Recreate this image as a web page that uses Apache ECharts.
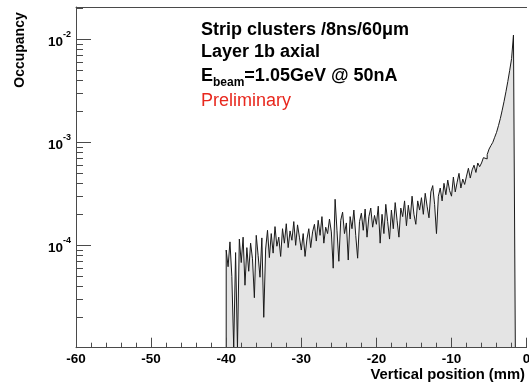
<!DOCTYPE html>
<html><head><meta charset="utf-8">
<script src="https://cdn.jsdelivr.net/npm/echarts@6/dist/echarts.min.js"></script>
<style>html,body{margin:0;padding:0;background:#fff}#c{width:529px;height:383px}</style>
</head><body><div id="c"></div><script>
// ---- data ----
const binLow = -40;          // left edge of first bin (mm)
const binWidth = 0.25;       // bin width (mm)
const occupancy = [
  9.0e-5, 6.2e-5, 1.08e-4, 5.0e-5, 0, 8.5e-5, 0, 1.15e-4,
  6.8e-5, 1.2e-4, 4.1e-5, 9.5e-5, 5.6e-5, 1.05e-4, 7.4e-5, 3.1e-5,
  1.25e-4, 8.0e-5, 4.9e-5, 1.18e-4, 2.0e-5, 9.2e-5, 1.4e-4, 7.6e-5,
  1.3e-4, 8.4e-5, 1.52e-4, 9.8e-5, 1.2e-4, 7.8e-5, 1.45e-4, 1.05e-4,
  1.62e-4, 9.5e-5, 1.38e-4, 1.12e-4, 1.7e-4, 1.0e-4, 1.58e-4, 1.2e-4,
  9.0e-5, 1.3e-4, 7.8e-5, 1.15e-4, 1.45e-4, 9.5e-5, 1.35e-4, 1.6e-4,
  1.1e-4, 1.75e-4, 1.25e-4, 1.9e-4, 1.05e-4, 1.5e-4, 1.3e-4, 1.8e-4,
  1.35e-4, 6.0e-5, 2.8e-4, 1.4e-4, 7.0e-5, 1.75e-4, 2.1e-4, 1.3e-4,
  1.65e-4, 7.2e-5, 1.9e-4, 1.45e-4, 2.2e-4, 1.25e-4, 7.5e-5, 1.7e-4,
  2.05e-4, 1.4e-4, 2.25e-4, 1.2e-4, 1.9e-4, 2.3e-4, 1.5e-4, 1.95e-4,
  1.6e-4, 2.4e-4, 1.05e-4, 2.0e-4, 1.3e-4, 2.5e-4, 1.7e-4, 1.15e-4,
  2.2e-4, 1.45e-4, 2.6e-4, 1.75e-4, 1.2e-4, 2.3e-4, 1.9e-4, 2.7e-4,
  1.55e-4, 2.45e-4, 1.8e-4, 3.0e-4, 2.0e-4, 1.6e-4, 2.7e-4, 2.2e-4,
  2.9e-4, 2.0e-4, 3.2e-4, 2.4e-4, 1.85e-4, 3.3e-4, 3.8e-4, 2.5e-4,
  1.3e-4, 3.0e-4, 3.6e-4, 2.7e-4, 4.0e-4, 3.1e-4, 4.3e-4, 3.4e-4,
  3.0e-4, 4.6e-4, 3.3e-4, 4.1e-4, 5.0e-4, 3.6e-4, 4.4e-4, 3.9e-4,
  4.7e-4, 5.6e-4, 4.5e-4, 5.4e-4, 6.0e-4, 5.1e-4, 6.3e-4, 5.8e-4,
  6.3e-4, 7.1e-4, 6.9e-4, 7.6e-4, 8.6e-4, 9.3e-4, 1.0e-3, 1.12e-3,
  1.25e-3, 1.45e-3, 1.7e-3, 2.05e-3, 2.5e-3, 3.1e-3, 3.9e-3, 5.0e-3, 6.5e-3, 1.1e-2
];
const xRange = [-60, 0];
const yRange = [1.014e-5, 0.0206];
const xMajorTicks = [-60, -50, -40, -30, -20, -10, 0];
const xMinorTicks = [-58,-56,-54,-52, -48,-46,-44,-42, -38,-36,-34,-32, -28,-26,-24,-22,
  -18,-16,-14,-12, -8,-6,-4,-2];
const yMajorTicks = [1e-4, 1e-3, 1e-2];
const yMinorTicks = [2e-5,3e-5,4e-5,5e-5,6e-5,7e-5,8e-5,9e-5,
  2e-4,3e-4,4e-4,5e-4,6e-4,7e-4,8e-4,9e-4,
  2e-3,3e-3,4e-3,5e-3,6e-3,7e-3,8e-3,9e-3, 2e-2];
const titleLines = ['Strip clusters /8ns/60\u03bcm', 'Layer 1b axial', 'Preliminary'];
const beamParts = ['E', 'beam', '=1.05GeV @ 50nA'];
const xTitle = 'Vertical position (mm)';
const yTitle = 'Occupancy';

// ---- build histogram outline points ----
const floorV = yRange[0];
const pts = [[binLow, floorV]];
occupancy.forEach((v, i) => pts.push([binLow + i * binWidth, v > 0 ? v : floorV]));
const binHigh = binLow + occupancy.length * binWidth;
pts.push([binHigh, occupancy[occupancy.length - 1]]);
pts.push([binHigh, floorV]);

const FONT = '"Liberation Sans", Arial, Helvetica, sans-serif';
const AX = '#4a4a4a';
const mctx = document.createElement('canvas').getContext('2d');
function textW(t, f) { mctx.font = f; return mctx.measureText(t).width; }
const wE = textW(beamParts[0], 'bold 18px ' + FONT);
const wBeam = textW(beamParts[1], 'bold 12px ' + FONT);

function txt(x, y, text, size, weight, color, align) {
  return { type: 'text', x: x, y: y,
    style: { text: text, x: 0, y: 0, align: align || 'left', verticalAlign: 'middle',
      fontSize: size, fontWeight: weight, fontFamily: FONT, fill: color } };
}

// tick marks drawn through the axes' own scales
const xTickData = xMajorTicks.concat(xMinorTicks).map(v => [v, yRange[0]]);
const yTickData = yMajorTicks.concat(yMinorTicks).map(v => [xRange[0], v]);
function crisp(v) { return Math.round(v - 0.5) + 0.5; }

const chart = echarts.init(document.getElementById('c'));
chart.setOption({
  animation: false,
  backgroundColor: '#fff',
  grid: { left: 76, right: 2.4, top: 7, bottom: 35.3, containLabel: false, outerBoundsMode: 'none' },
  xAxis: [
    { type: 'value', min: xRange[0], max: xRange[1], interval: 10, position: 'bottom', z: 5,
      axisLine: { show: true, onZero: false, lineStyle: { color: AX, width: 1 } },
      axisTick: { show: false },
      axisLabel: { show: true, margin: 5, fontSize: 13.5, fontWeight: 'bold', color: '#000', fontFamily: FONT,
        formatter: v => String(v) },
      splitLine: { show: false } },
    { type: 'value', min: xRange[0], max: xRange[1], position: 'top', z: 5,
      axisLine: { show: true, onZero: false, lineStyle: { color: AX, width: 1 } },
      axisTick: { show: false }, axisLabel: { show: false }, splitLine: { show: false } }
  ],
  yAxis: [
    { type: 'log', logBase: 10, min: yRange[0], max: yRange[1], position: 'left', z: 5,
      axisLine: { show: true, onZero: false, lineStyle: { color: AX, width: 1 } },
      axisTick: { show: false },
      axisLabel: { show: true, margin: 5, customValues: yMajorTicks,
        formatter: v => '{b|10}{s|' + Math.round(Math.log10(v)) + '}',
        rich: {
          b: { fontSize: 13.5, fontWeight: 'bold', fontFamily: FONT, color: '#000', lineHeight: 13, verticalAlign: 'bottom' },
          s: { fontSize: 9, fontWeight: 'bold', fontFamily: FONT, color: '#000', lineHeight: 19, verticalAlign: 'top' }
        } },
      splitLine: { show: false } }
  ],
  series: [{
    type: 'line', xAxisIndex: 0, yAxisIndex: 0, data: pts, step: 'end',
    symbol: 'none', showSymbol: false, clip: true, silent: true, z: 2,
    lineStyle: { color: '#1a1a1a', width: 1 },
    areaStyle: { color: '#e4e4e4', opacity: 1, origin: 'start' }
  }, {
    type: 'custom', xAxisIndex: 0, yAxisIndex: 0, data: xTickData, z: 6, silent: true,
    encode: { x: 0, y: 1 },
    renderItem: (params, api) => {
      const v = api.value(0);
      const p = api.coord([v, api.value(1)]);
      const len = xMajorTicks.indexOf(v) >= 0 ? 10 : 5;
      const x = crisp(p[0]);
      return { type: 'line', shape: { x1: x, y1: p[1], x2: x, y2: p[1] - len },
        style: { stroke: AX, lineWidth: 1 } };
    }
  }, {
    type: 'custom', xAxisIndex: 0, yAxisIndex: 0, data: yTickData, z: 6, silent: true,
    encode: { x: 0, y: 1 },
    renderItem: (params, api) => {
      const v = api.value(1);
      const p = api.coord([api.value(0), v]);
      const len = yMajorTicks.indexOf(v) >= 0 ? 15 : 7;
      const y = crisp(p[1]);
      return { type: 'line', shape: { x1: p[0], y1: y, x2: p[0] + len, y2: y },
        style: { stroke: AX, lineWidth: 1 } };
    }
  }],
  graphic: [
    { type: 'text', x: 20, y: 50, rotation: Math.PI / 2,
      style: { text: yTitle, x: 0, y: 0, align: 'center', verticalAlign: 'middle',
        fontSize: 14, fontWeight: 'bold', fontFamily: FONT, fill: '#000' } },
    txt(525, 374.9, xTitle, 14.8, 'bold', '#000', 'right'),
    txt(201, 29.8, titleLines[0], 18, 'bold', '#000'),
    txt(201, 52.1, titleLines[1], 18, 'bold', '#000'),
    txt(201, 76.1, beamParts[0], 18, 'bold', '#000'),
    txt(201 + wE, 82.6, beamParts[1], 12, 'bold', '#000'),
    txt(201 + wE + wBeam, 76.1, beamParts[2], 18, 'bold', '#000'),
    txt(201, 101.1, titleLines[2], 18, 'normal', '#e8281e')
  ]
});
</script></body></html>
